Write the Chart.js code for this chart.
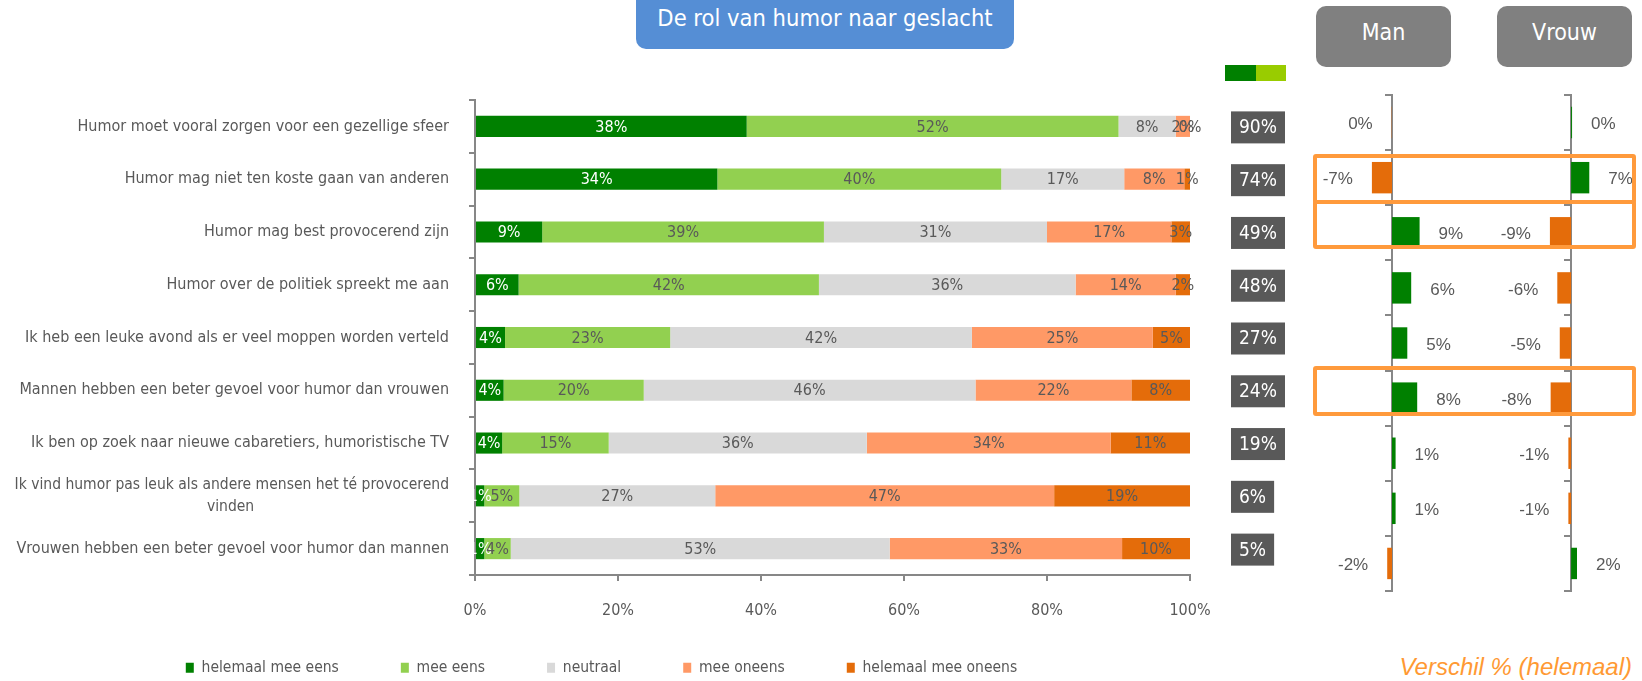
<!DOCTYPE html>
<html>
<head>
<meta charset="utf-8">
<script src="https://cdn.jsdelivr.net/npm/chart.js@4"></script>
<style>
html, body { margin: 0; padding: 0; background: #fff; }
#wrap { position: relative; width: 1642px; height: 681px; overflow: hidden;
  font-family: "DejaVu Sans Condensed", "DejaVu Sans", sans-serif; }
canvas { position: absolute; }
#title { position: absolute; left: 636px; top: -12px; width: 378px; height: 61px; box-sizing: border-box;
  background: #558ED5; border-radius: 10px; color: #fff; font-size: 23.5px; line-height: 30px;
  padding-top: 15px; text-align: center; }
.btn { position: absolute; top: 6px; width: 135px; height: 61px; box-sizing: border-box; background: #808080;
  border-radius: 10px; color: #fff; font-size: 23px; line-height: 30px; padding-top: 11px; text-align: center; }
.hl { position: absolute; left: 1313px; width: 323px; box-sizing: border-box; border: 4px solid #FF9A3C;
  border-radius: 3px; }
#sw1 { position: absolute; left: 1225px; top: 65px; width: 31px; height: 16px; background: #008000; }
#sw2 { position: absolute; left: 1256px; top: 65px; width: 30px; height: 16px; background: #99CC00; }
#note { position: absolute; right: 10px; top: 652px; line-height: 30px; font-family: "Liberation Sans", Arial, sans-serif;
  font-style: italic; font-size: 24px; color: #FF9933; white-space: nowrap; }
</style>
</head>
<body>
<div id="wrap">
  <canvas id="main" width="1300" height="681" style="left:0;top:0"></canvas>
  <canvas id="man" width="180" height="502" style="left:1302px;top:92px"></canvas>
  <canvas id="vrouw" width="160" height="502" style="left:1480px;top:92px"></canvas>
  <div id="title">De rol van humor naar geslacht</div>
  <div class="btn" style="left:1316px">Man</div>
  <div class="btn" style="left:1497px">Vrouw</div>
  <div id="sw1"></div><div id="sw2"></div>
  <div class="hl" style="top:154px;height:50px"></div>
  <div class="hl" style="top:200px;height:49px"></div>
  <div class="hl" style="top:366px;height:50px"></div>
  <div id="note">Verschil % (helemaal)</div>
</div>
<script>
// ---------- DATA ----------
const categories = [
  'Humor moet vooral zorgen voor een gezellige sfeer',
  'Humor mag niet ten koste gaan van anderen',
  'Humor mag best provocerend zijn',
  'Humor over de politiek spreekt me aan',
  'Ik heb een leuke avond als er veel moppen worden verteld',
  'Mannen hebben een beter gevoel voor humor dan vrouwen',
  'Ik ben op zoek naar nieuwe cabaretiers, humoristische TV',
  ['Ik vind humor pas leuk als andere mensen het té provocerend', 'vinden'],
  'Vrouwen hebben een beter gevoel voor humor dan mannen'
];
const seriesNames = ['helemaal mee eens', 'mee eens', 'neutraal', 'mee oneens', 'helemaal mee oneens'];
const helemaalMeeEens   = [38, 33.9, 9.4, 6.1, 4.2, 4.0, 3.8, 1.3, 1.3];
const meeEens           = [52, 39.7, 39.4, 42.0, 23.1, 19.6, 14.9, 4.9, 3.7];
const neutraal          = [8, 17.2, 31.2, 35.9, 42.2, 46.4, 36.1, 27.4, 53.0];
const meeOneens         = [2, 8.4, 17.4, 14.0, 25.3, 21.8, 34.1, 47.4, 32.5];
const helemaalMeeOneens = [0, 0.8, 2.6, 2.0, 5.2, 8.2, 11.1, 19.0, 9.5];
const agreeTotals = [90, 74, 49, 48, 27, 24, 19, 6, 5];
const xAxisMin = 0, xAxisMax = 100, xAxisStep = 20;
const manDiff   = [-0.1, -6.7, 9.2, 6.4, 5.1, 8.4, 1.2, 1.2, -1.6];
const vrouwDiff = [0.4, 7.4, -8.6, -5.6, -4.6, -8.3, -1.1, -1.1, 2.4];

// ---------- STYLE ----------
const FONT = '"DejaVu Sans Condensed", "DejaVu Sans", sans-serif';
const ARIAL = '"Liberation Sans", Arial, sans-serif';
const TEXT = '#595959';
const AXIS = '#878787';
const GREEN = '#008000';
const ORANGE = '#E46C0A';
const seriesColors = ['#008000', '#92D050', '#D9D9D9', '#FF9966', '#E46C0A'];
const PAD_B = -34;
const LEGEND_PAD = 62;
Chart.defaults.font.family = FONT;
Chart.defaults.color = TEXT;

const seriesData = [helemaalMeeEens, meeEens, neutraal, meeOneens, helemaalMeeOneens];
const catFontSize = i => (Array.isArray(categories[i]) ? 15.5 : 16);

const segLabels = {
  id: 'segLabels',
  afterDatasetsDraw(chart) {
    const ctx = chart.ctx;
    ctx.save();
    ctx.font = '16px ' + FONT;
    ctx.textAlign = 'center';
    ctx.textBaseline = 'middle';
    chart.data.datasets.forEach((ds, di) => {
      chart.getDatasetMeta(di).data.forEach((bar, i) => {
        const v = ds.data[i];
        ctx.fillStyle = di === 0 ? '#ffffff' : TEXT;
        ctx.fillText(Math.round(v) + '%', (bar.x + bar.base) / 2, bar.y + 1);
      });
    });
    ctx.restore();
  }
};

const totalBoxes = {
  id: 'totalBoxes',
  afterDraw(chart) {
    const ctx = chart.ctx;
    const ys = chart.scales.y;
    ctx.save();
    ctx.font = '19px ' + FONT;
    ctx.textAlign = 'center';
    ctx.textBaseline = 'middle';
    agreeTotals.forEach((t, i) => {
      const txt = t + '%';
      const w = ctx.measureText(txt).width + 16;
      const y = ys.getPixelForValue(i) + 1;
      ctx.fillStyle = '#595959';
      ctx.fillRect(1231, y - 16, w, 32);
      ctx.fillStyle = '#ffffff';
      ctx.fillText(txt, 1231 + w / 2, y + 1);
    });
    ctx.restore();
  }
};

const legendPlace = {
  id: 'legendPlace',
  afterLayout(chart) {
    const lg = chart.legend;
    const h = lg.height;
    lg.left = 13;
    lg.top = 660 - LEGEND_PAD;
    lg.bottom = lg.top + h;
  }
};

new Chart(document.getElementById('main'), {
  type: 'bar',
  data: {
    labels: categories,
    datasets: seriesData.map((d, k) => ({
      label: seriesNames[k], data: d, backgroundColor: seriesColors[k], borderWidth: 0,
      barPercentage: 0.4, categoryPercentage: 1
    }))
  },
  options: {
    indexAxis: 'y', responsive: false, animation: false, devicePixelRatio: 1,
    layout: { padding: { left: 0, right: 110, top: 100, bottom: PAD_B } },
    scales: {
      x: {
        stacked: true, min: xAxisMin, max: xAxisMax,
        ticks: { stepSize: xAxisStep, callback: v => v + '%', padding: 20, font: { size: 16 }, color: TEXT,
                 maxRotation: 0, autoSkip: false },
        grid: { drawOnChartArea: false, tickLength: 6, color: AXIS, lineWidth: 2 },
        border: { display: true, color: AXIS, width: 2 },
        afterFit: s => { s.height = Math.max(48, 681 - PAD_B - s.chart.legend.height - 575); }
      },
      y: {
        stacked: true,
        ticks: {
          padding: 20, color: TEXT,
          font: c => ({ size: catFontSize(c.index), lineHeight: 1.45 }),
          callback: function (value, index) {
            const lab = categories[index];
            if (!Array.isArray(lab)) return lab;
            const ctx = this.chart.ctx;
            ctx.save();
            ctx.font = catFontSize(index) + 'px ' + FONT;
            const widths = lab.map(l => ctx.measureText(l).width);
            const sp = ctx.measureText(' ').width;
            ctx.restore();
            const maxW = Math.max(...widths);
            return lab.map((l, k) => l + ' '.repeat(Math.round((maxW - widths[k]) / 2 / sp)));
          }
        },
        grid: { drawOnChartArea: false, tickLength: 6, color: AXIS, lineWidth: 2, offset: true },
        border: { display: true, color: AXIS, width: 2 },
        afterFit: s => { s.width = 475; }
      }
    },
    plugins: {
      legend: {
        position: 'bottom',
        labels: { boxWidth: 8, boxHeight: 10, padding: LEGEND_PAD, color: TEXT, font: { size: 15.5 } }
      },
      tooltip: { enabled: false }
    }
  },
  plugins: [segLabels, totalBoxes, legendPlace]
});

const diffLabels = {
  id: 'diffLabels',
  afterDatasetsDraw(chart) {
    const ctx = chart.ctx;
    ctx.save();
    ctx.font = '17px ' + ARIAL;
    ctx.fillStyle = TEXT;
    ctx.textBaseline = 'middle';
    const ds = chart.data.datasets[0];
    chart.getDatasetMeta(0).data.forEach((bar, i) => {
      const v = ds.data[i];
      const txt = Math.round(v) + '%';
      if (v >= 0) { ctx.textAlign = 'left'; ctx.fillText(txt, bar.x + 19, bar.y + 2); }
      else { ctx.textAlign = 'right'; ctx.fillText(txt, bar.x - 19, bar.y + 2); }
    });
    ctx.restore();
  }
};

function diffChart(id, values, min, max) {
  return new Chart(document.getElementById(id), {
    type: 'bar',
    data: {
      labels: categories.map(c => Array.isArray(c) ? c.join(' ') : c),
      datasets: [{
        data: values, backgroundColor: values.map(v => v >= 0 ? GREEN : ORANGE), borderWidth: 0,
        barPercentage: 0.57, categoryPercentage: 1
      }]
    },
    options: {
      indexAxis: 'y', responsive: false, animation: false, devicePixelRatio: 1,
      layout: { padding: { top: 3, bottom: 3, left: 0, right: 0 } },
      scales: {
        x: { type: 'linear', min: min, max: max, display: false },
        y: {
          position: { x: 0 },
          ticks: { display: false },
          grid: { drawOnChartArea: false, tickLength: 6, color: AXIS, lineWidth: 2, offset: true },
          border: { display: true, color: AXIS, width: 2 }
        }
      },
      plugins: { legend: { display: false }, tooltip: { enabled: false } }
    },
    plugins: [diffLabels]
  });
}
diffChart('man', manDiff, -30, 30);
diffChart('vrouw', vrouwDiff, -37, 28);
</script>
</body>
</html>
